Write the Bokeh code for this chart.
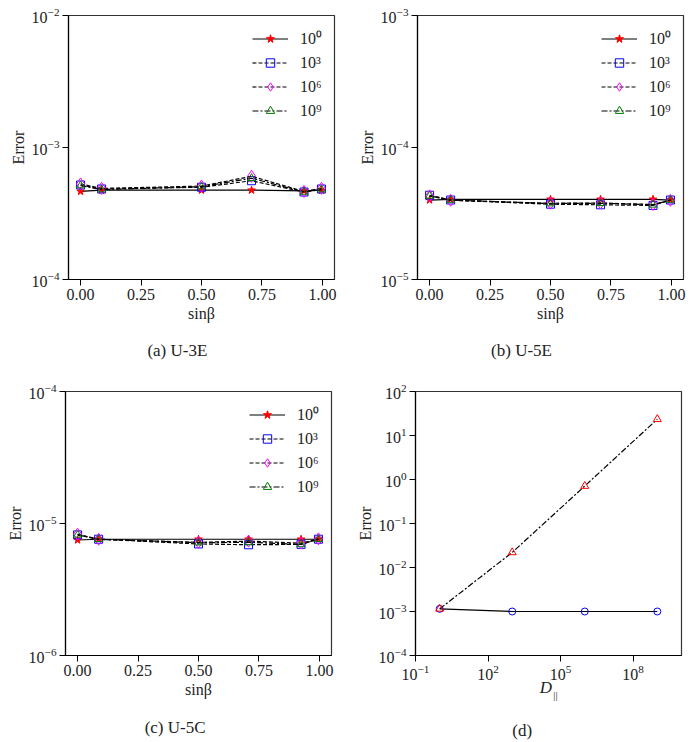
import numpy as np
from bokeh.plotting import figure
from bokeh.layouts import row, column
from bokeh.models import Range1d, FixedTicker, Legend, LegendItem, LinearAxis
from bokeh.embed import file_html
from bokeh.resources import INLINE

FONT = "Liberation Serif"

# --- data -------------------------------------------------------------
sin_beta = [0.0, 0.087, 0.5, 0.707, 0.924, 0.996]
legend_labels = ["10⁰", "10³", "10⁶", "10⁹"]
x_ticks = [0.0, 0.25, 0.5, 0.75, 1.0]

# (a) U-3E
u3e_d1 = [4.65e-4, 4.75e-4, 4.75e-4, 4.75e-4, 4.7e-4, 4.75e-4]
u3e_d1e3 = [5.2e-4, 4.85e-4, 5.0e-4, 5.6e-4, 4.6e-4, 4.85e-4]
u3e_d1e6 = [5.3e-4, 4.9e-4, 5.1e-4, 6.05e-4, 4.65e-4, 4.9e-4]
u3e_d1e9 = [5.15e-4, 4.8e-4, 5.05e-4, 5.85e-4, 4.6e-4, 4.8e-4]

# (b) U-5E
u5e_d1 = [4.0e-5, 4.05e-5, 4.05e-5, 4.05e-5, 4.05e-5, 4.0e-5]
u5e_d1e3 = [4.35e-5, 4.0e-5, 3.72e-5, 3.68e-5, 3.64e-5, 4.0e-5]
u5e_d1e6 = [4.3e-5, 3.98e-5, 3.78e-5, 3.8e-5, 3.7e-5, 3.98e-5]
u5e_d1e9 = [4.3e-5, 4.0e-5, 3.76e-5, 3.78e-5, 3.68e-5, 4.0e-5]

# (c) U-5C
u5c_d1 = [7.5e-6, 7.6e-6, 7.6e-6, 7.6e-6, 7.6e-6, 7.6e-6]
u5c_d1e3 = [8.2e-6, 7.6e-6, 7.0e-6, 6.9e-6, 6.95e-6, 7.6e-6]
u5c_d1e6 = [8.3e-6, 7.6e-6, 7.2e-6, 7.35e-6, 7.1e-6, 7.65e-6]
u5c_d1e9 = [8.2e-6, 7.6e-6, 7.15e-6, 7.2e-6, 6.95e-6, 7.6e-6]

# (d) error versus D_parallel
d_par = [1.0, 1e3, 1e6, 1e9]
err_tri = [1.15e-3, 2.2e-2, 0.71, 23.5]
err_circ = [1.15e-3, 1.0e-3, 1.0e-3, 1.0e-3]

# --- styles -----------------------------------------------------------
DASHDOT = "6 2 2 2"
series_styles = [
    dict(dash="solid", marker="star", color="red", fill="red", size=8),
    dict(dash="4 2", marker="square", color="blue", fill=None, size=8),
    dict(dash="4 2", marker="diamond", color="magenta", fill=None, size=12),
    dict(dash=DASHDOT, marker="triangle", color="green", fill=None, size=8),
]


def style_axes(p):
    for ax in (p.xaxis[0], p.yaxis[0]):
        ax.axis_line_color = "black"
        ax.axis_line_width = 1.2
        ax.major_tick_line_color = "black"
        ax.major_tick_line_width = 1
        ax.major_tick_in = 0
        ax.major_tick_out = 6
        ax.minor_tick_line_color = None
        ax.major_label_text_font = FONT
        ax.major_label_text_font_size = "16px"
        ax.major_label_text_color = "#222222"
        ax.axis_label_text_font = FONT
        ax.axis_label_text_font_size = "16px"
        ax.axis_label_text_font_style = "normal"
        ax.axis_label_text_color = "#222222"
        ax.major_label_standoff = 3
        ax.axis_label_standoff = 2
    p.xgrid.visible = False
    p.ygrid.visible = False
    p.outline_line_color = "#333333"
    p.outline_line_width = 1.2
    p.background_fill_color = "white"
    p.border_fill_color = "white"


def text_row(p, pos, text, size, standoff, style="normal"):
    """A bare axis below the plot that carries one piece of text at `pos`."""
    ax = LinearAxis(ticker=FixedTicker(ticks=[pos], minor_ticks=[]),
                    major_label_overrides={pos: text},
                    axis_line_color=None, major_tick_line_color=None,
                    minor_tick_line_color=None, major_tick_in=0, major_tick_out=0,
                    major_label_standoff=standoff, major_label_text_font=FONT,
                    major_label_text_font_size=size, major_label_text_font_style=style,
                    major_label_text_color="#222222")
    p.add_layout(ax, "below")


def sin_panel(series, y_lo, y_hi, borders, cap_text, cap_pos, cap_standoff):
    left, right, top, bottom = borders
    p = figure(frame_width=266, frame_height=264, y_axis_type="log",
               x_range=Range1d(-0.05, 1.05), y_range=Range1d(y_lo, y_hi),
               min_border_left=left, min_border_right=right,
               min_border_top=top, min_border_bottom=bottom,
               output_backend="svg", toolbar_location=None)
    style_axes(p)
    p.xaxis.ticker = FixedTicker(ticks=x_ticks, minor_ticks=[])
    p.xaxis.major_label_overrides = {0.0: "0.00", 0.25: "0.25", 0.5: "0.50", 0.75: "0.75", 1.0: "1.00"}
    p.yaxis.ticker = FixedTicker(ticks=[y_lo, y_lo * 10, y_hi], minor_ticks=[])
    p.xaxis.axis_label = "sinβ"
    p.yaxis.axis_label = "Error"

    items = []
    for vals, lab, st in zip(series, legend_labels, series_styles):
        lr = p.line(sin_beta, vals, line_color="black", line_width=1.2, line_dash=st["dash"])
        sr = p.scatter(sin_beta, vals, marker=st["marker"], size=st["size"],
                       line_color=st["color"], line_width=1,
                       fill_color=st["fill"], fill_alpha=1.0 if st["fill"] else 0.0)
        items.append(LegendItem(label=lab, renderers=[lr, sr]))
    legend = Legend(items=items, location="top_right", border_line_alpha=0,
                    background_fill_alpha=0, label_text_font=FONT,
                    label_text_font_size="16px", label_text_color="#222222",
                    glyph_width=36, glyph_height=21, label_height=21, spacing=3,
                    padding=6, margin=6, label_standoff=12)
    p.add_layout(legend)
    text_row(p, cap_pos, cap_text, "17px", cap_standoff)
    return p


pa = sin_panel([u3e_d1, u3e_d1e3, u3e_d1e6, u3e_d1e9], 1e-4, 1e-2,
               (68, 12, 15, 92), "(a)  U-3E", 0.409, 16)
pb = sin_panel([u5e_d1, u5e_d1e3, u5e_d1e6, u5e_d1e9], 1e-5, 1e-3,
               (71, 9, 15, 92), "(b)  U-5E", 0.389, 16)
pc = sin_panel([u5c_d1, u5c_d1e3, u5c_d1e6, u5c_d1e9], 1e-6, 1e-4,
               (65, 15, 20, 87), "(c)  U-5C", 0.412, 17)

# (d) log-log panel
pd = figure(frame_width=266, frame_height=264, x_axis_type="log", y_axis_type="log",
            x_range=Range1d(1e-1, 1e10), y_range=Range1d(1e-4, 1e2),
            min_border_left=69, min_border_right=11, min_border_top=20, min_border_bottom=87,
            output_backend="svg", toolbar_location=None)
style_axes(pd)
pd.xaxis.ticker = FixedTicker(ticks=[1e-1, 1e2, 1e5, 1e8], minor_ticks=[])
pd.yaxis.ticker = FixedTicker(ticks=[1e-4, 1e-3, 1e-2, 1e-1, 1e0, 1e1, 1e2], minor_ticks=[])
pd.yaxis.axis_label = "Error"
pd.line(d_par, err_circ, line_color="black", line_width=1.2)
pd.scatter(d_par, err_circ, marker="circle", size=7, line_color="blue", line_width=1, fill_alpha=0)
pd.line(d_par, err_tri, line_color="black", line_width=1.2, line_dash=DASHDOT)
pd.scatter(d_par, err_tri, marker="triangle", size=8, line_color="red", line_width=1, fill_alpha=0)
# x-axis title D with its "||" subscript, then the caption
text_row(pd, 10 ** 4.397, "D", "17px", -5, style="italic")
text_row(pd, 10 ** 4.79, "||", "11px", -11)
text_row(pd, 10 ** 3.41, "(d)", "17px", 17)

layout = column(row(pa, pb), row(pc, pd))
open("out.html", "w").write(file_html(layout, INLINE))
